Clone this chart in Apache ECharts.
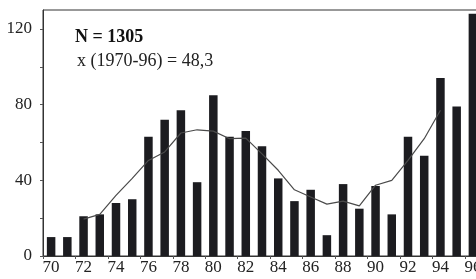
<!DOCTYPE html>
<html>
<head>
<meta charset="utf-8">
<script src="https://cdn.jsdelivr.net/npm/echarts@6/dist/echarts.min.js"></script>
<style>
  html, body { margin: 0; padding: 0; background: #fff; }
  #chart { width: 476px; height: 279px; }
</style>
</head>
<body>
<div id="chart"></div>
<script>
// years 1970-1996
const years = ['70','71','72','73','74','75','76','77','78','79','80','81','82','83',
  '84','85','86','87','88','89','90','91','92','93','94','95','96'];
// yearly counts (bars)
const counts = [10,10,21,22,28,30,63,72,77,39,85,63,66,58,41,29,35,11,38,25,37,22,63,53,94,79,128];
// running mean (line)
const runMean = [null,null,19.5,22,32,41,50.5,55,65,66.7,66,62,62.3,54,45.3,35,31.2,27.4,29,26.5,37.4,40,50.5,62,77,null,null];
const yTicks = [0,40,80,120];

const chart = echarts.init(document.getElementById('chart'));
const font = 'Liberation Serif';

let option = {
  animation: false,
  grid: {
    left: 43, width: 438, top: 10, bottom: 23,
    outerBoundsMode: 'none',
    containLabel: false,
    show: true, borderColor: '#333', borderWidth: 1
  },
  xAxis: {
    type: 'category',
    data: years,
    boundaryGap: true,
    axisLine: { lineStyle: { color: '#333', width: 1 } },
    axisTick: { show: true, length: 3, lineStyle: { color: '#555' } },
    axisLabel: {
      interval: 1,
      margin: 3,
      color: '#222',
      fontFamily: font,
      fontSize: 17
    }
  },
  yAxis: {
    type: 'value',
    min: 0, max: 130, interval: 20,
    splitLine: { show: false },
    axisLine: { show: true, lineStyle: { color: '#333', width: 1 } },
    axisTick: { show: true, length: 3, lineStyle: { color: '#555' } },
    axisLabel: {
      showMaxLabel: false,
      margin: 11,
      color: '#222',
      fontFamily: font,
      fontSize: 17,
      formatter: v => yTicks.includes(v) ? String(v) : ''
    }
  },
  series: [
    {
      type: 'bar',
      data: counts,
      barWidth: 8.5,
      itemStyle: { color: '#1c1c20' }
    },
    {
      type: 'line',
      data: runMean,
      symbol: 'none',
      smooth: false,
      connectNulls: false,
      lineStyle: { color: '#4a4a4a', width: 1.2 },
      z: 3
    }
  ],
  graphic: [
    {
      type: 'text', left: 75, top: 28,
      style: { text: 'N = 1305', fontFamily: font, fontSize: 18, fontWeight: 'bold', fill: '#111' }
    },
    {
      type: 'text', left: 77, top: 52,
      style: { text: 'x (1970-96) = 48,3', fontFamily: font, fontSize: 18, fill: '#222' }
    }
  ]
};

chart.setOption(option);
</script>
</body>
</html>
